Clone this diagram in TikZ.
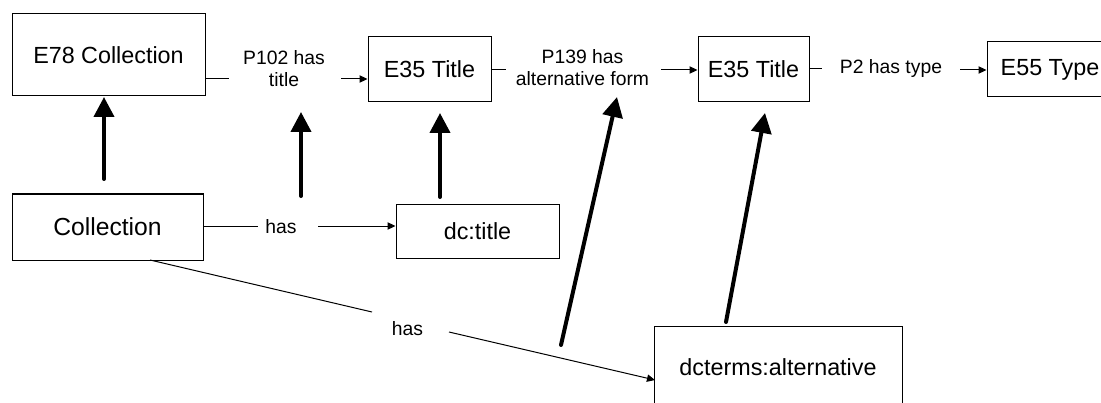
\documentclass[tikz,border=0pt]{standalone}
\usepackage{fontspec}
\setmainfont{Liberation Sans}
\usetikzlibrary{arrows.meta}
\begin{document}
\begin{tikzpicture}[x=0.75pt,y=-0.75pt,
  box/.style={draw, line width=0.75pt, inner sep=0pt, font=\fontsize{17.5}{21}\selectfont},
  lbl/.style={inner sep=0pt, align=center, font=\fontsize{14.5}{16}\selectfont},
  conn/.style={line width=0.75pt},
  connarrow/.style={line width=0.75pt, -{Triangle[length=6pt,width=5.5pt]}},
  big/.style={line width=3pt, line cap=round, -{Triangle[length=15pt,width=15pt]}}]
\useasboundingbox (0,0) rectangle (1101,403);
% boxes
\node[box, minimum width=193*0.75pt, minimum height=82*0.75pt] (E78) at (108.5,55) {E78 Collection};
\node[box, minimum width=123*0.75pt, minimum height=65*0.75pt] (E35a) at (429.5,69.5) {E35 Title};
\node[box, minimum width=111*0.75pt, minimum height=65*0.75pt] (E35b) at (753.5,69.5) {E35 Title};
\node[box, minimum width=126*0.75pt, minimum height=55*0.75pt] (E55) at (1050,69.5) {E55 Type};
\node[box, minimum width=191*0.75pt, minimum height=66*0.75pt, font=\fontsize{18.5}{21}\selectfont] (Coll) at (107.5,227) {Collection};
\node[box, minimum width=163*0.75pt, minimum height=54*0.75pt] (dctitle) at (477.5,231) {dc:title};
\node[box, minimum width=248*0.75pt, minimum height=82*0.75pt] (dcalt) at (778,367) {dcterms:alternative};
% labels
\node[lbl] (p102) at (284,68.5) {P102 has\\title};
\node[lbl] (p139) at (582.5,67.5) {P139 has\\alternative form};
\node[lbl] (p2) at (891,68.5) {P2 has type};
\node[lbl] (has1) at (281,227) {has};
\node[lbl] (has2) at (407.5,329) {has};
% gap end coordinates
\coordinate (a1) at (229,79);  \coordinate (a2) at (341,79);
\coordinate (b1) at (506,70);  \coordinate (b2) at (661,70);
\coordinate (c1) at (822,69);  \coordinate (c2) at (960,70);
\coordinate (d1) at (258,226); \coordinate (d2) at (318,226);
\coordinate (e0) at (150,260); \coordinate (e1) at (372,312); \coordinate (e2) at (449,332); \coordinate (e3) at (655,380);
% thin connectors
\draw[conn] (E78.east |- a1) -- (a1);
\draw[connarrow] (a2) -- (E35a.west |- a2);
\draw[conn] (E35a.east |- b1) -- (b1);
\draw[connarrow] (b2) -- (E35b.west |- b2);
\draw[conn] (E35b.east |- c1) -- (c1);
\draw[connarrow] (c2) -- (E55.west |- c2);
\draw[conn] (Coll.east |- d1) -- (d1);
\draw[connarrow] (d2) -- (dctitle.west |- d2);
\draw[conn] (e0) -- (e1);
\draw[connarrow] (e2) -- (e3);
% thick mapping arrows
\coordinate (t1s) at (104,179); \coordinate (t1e) at (104,97);
\coordinate (t2s) at (301,196); \coordinate (t2e) at (301,112);
\coordinate (t3s) at (440,197); \coordinate (t3e) at (440,113);
\coordinate (t4s) at (561,345); \coordinate (t4e) at (617,97);
\coordinate (t5s) at (726,322); \coordinate (t5e) at (765,113);
\draw[big] (t1s) -- (t1e);
\draw[big] (t2s) -- (t2e);
\draw[big] (t3s) -- (t3e);
\draw[big] (t4s) -- (t4e);
\draw[big] (t5s) -- (t5e);
\end{tikzpicture}
\end{document}
